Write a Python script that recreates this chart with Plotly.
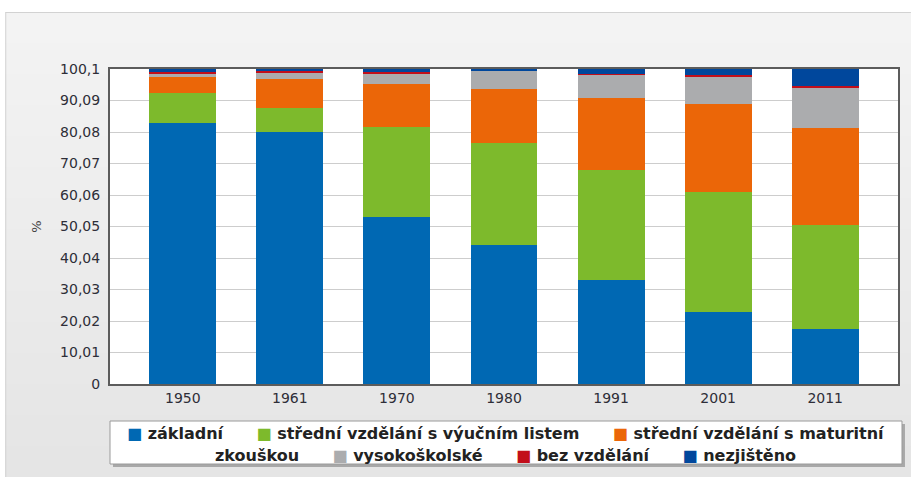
import plotly.graph_objects as go

# ---------------- data ----------------
years = ["1950", "1961", "1970", "1980", "1991", "2001", "2011"]
zakladni = [82.8, 80.2, 53.0, 44.3, 32.9, 23.0, 17.6]
vyucni = [9.8, 7.6, 28.6, 32.4, 35.2, 37.9, 33.0]
maturitni = [5.0, 9.1, 13.6, 17.2, 22.9, 28.0, 30.9]
vysokoskolske = [1.2, 2.0, 3.4, 5.7, 7.2, 8.9, 12.7]
bez_vzdelani = [0.4, 0.8, 0.4, 0.1, 0.3, 0.5, 0.5]
nezjisteno = [0.8, 0.3, 1.0, 0.3, 1.5, 1.7, 5.3]

series_names = ["základní", "střední vzdělání s výučním listem",
                "střední vzdělání s maturitní zkouškou", "vysokoškolské",
                "bez vzdělání", "nezjištěno"]
series_values = [zakladni, vyucni, maturitni, vysokoskolske, bez_vzdelani, nezjisteno]
series_colors = ["#0068b3", "#7dba2c", "#eb6608", "#abacae", "#c20e1a", "#00479c"]

y_tick_labels = ["0", "10,01", "20,02", "30,03", "40,04", "50,05",
                 "60,06", "70,07", "80,08", "90,09", "100,1"]
y_tick_vals = [float(t.replace(",", ".")) for t in y_tick_labels]

# ---------------- layout helpers ----------------
W, H = 911, 477
PL, PR, PT, PB = 110, 900, 69, 384


def px(x):
    return (x - PL) / (PR - PL)


def py(y):
    return (PB - y) / (PB - PT)


fig = go.Figure()
for name, vals, color in zip(series_names, series_values, series_colors):
    fig.add_bar(x=years, y=vals, name=name, showlegend=False,
                marker=dict(color=color, line=dict(width=0)))

shapes = []
# gradient panel background
N = 30
top, bottom = 12, H
c0, c1 = (243, 243, 243), (229, 229, 229)
for i in range(N):
    t = i / (N - 1)
    col = tuple(round(a + (b - a) * t) for a, b in zip(c0, c1))
    y0 = top + (bottom - top) * i / N
    y1 = top + (bottom - top) * (i + 1) / N + 1
    shapes.append(dict(type="rect", xref="paper", yref="paper", layer="below",
                       x0=px(5), x1=px(W + 2), y0=py(y0), y1=py(y1),
                       fillcolor="rgb(%d,%d,%d)" % col, line=dict(width=0)))
# panel border
shapes.append(dict(type="line", xref="paper", yref="paper", layer="below",
                   x0=px(5), x1=px(W + 2), y0=py(12.5), y1=py(12.5),
                   line=dict(color="#d2d2d2", width=1)))
shapes.append(dict(type="line", xref="paper", yref="paper", layer="below",
                   x0=px(5.5), x1=px(5.5), y0=py(12.5), y1=py(H + 2),
                   line=dict(color="#d2d2d2", width=1)))
# white plot area
shapes.append(dict(type="rect", xref="paper", yref="paper", layer="below",
                   x0=0, x1=1, y0=0, y1=1, fillcolor="white", line=dict(width=0)))
# legend box shadow + box
shapes.append(dict(type="rect", xref="paper", yref="paper", layer="above",
                   x0=px(113), x1=px(907), y0=py(424), y1=py(467),
                   fillcolor="#8f8f8f", line=dict(width=0), opacity=0.7))
shapes.append(dict(type="rect", xref="paper", yref="paper", layer="above",
                   x0=px(110), x1=px(904), y0=py(421), y1=py(464),
                   fillcolor="white", line=dict(color="#9a9a9a", width=1)))

# custom legend text (wraps like the original)
NB = "\u00a0" * 6


def item(name, color):
    return '<span style="color:%s">■</span> %s' % (color, name)


line1 = NB.join([item(series_names[0], series_colors[0]),
                 item(series_names[1], series_colors[1]),
                 item("střední vzdělání s maturitní", series_colors[2])])
line2 = NB.join(["zkouškou",
                 item(series_names[3], series_colors[3]),
                 item(series_names[4], series_colors[4]),
                 item(series_names[5], series_colors[5])])

legend_font = dict(family="DejaVu Sans", size=16, color="#222222")
annotations = [
    dict(xref="paper", yref="paper", x=px(507), y=py(434), text="<b>%s</b>" % line1,
         showarrow=False, font=legend_font, xanchor="center", yanchor="middle"),
    dict(xref="paper", yref="paper", x=px(507), y=py(455), text="<b>%s</b>" % line2,
         showarrow=False, font=legend_font, xanchor="center", yanchor="middle"),
]

fig.update_layout(
    width=W, height=H,
    margin=dict(l=PL, r=W - PR, t=PT, b=H - PB),
    paper_bgcolor="white", plot_bgcolor="white",
    barmode="stack", bargap=0.375,
    font=dict(family="DejaVu Sans", size=14, color="#2e2e38"),
    shapes=shapes, annotations=annotations,
    xaxis=dict(type="category", range=[-0.68, 6.68], showgrid=False,
               showline=True, mirror=True, linecolor="#5c5c5c", linewidth=2,
               ticks="", tickfont=dict(size=14, color="#2e2e38")),
    yaxis=dict(range=[0, 100.1], tickvals=y_tick_vals, ticktext=y_tick_labels,
               showgrid=True, gridcolor="#cdcdcd", gridwidth=1, zeroline=False,
               showline=True, mirror=True, linecolor="#5c5c5c", linewidth=2,
               ticks="", ticklabelstandoff=5,
               tickfont=dict(size=14, color="#2e2e38"),
               title=dict(text="%", font=dict(size=13, color="#444"), standoff=16)),
)

fig.write_html("out.html", config={"displayModeBar": False},
               post_script="document.body.style.margin='0';document.body.style.overflow='hidden';")
